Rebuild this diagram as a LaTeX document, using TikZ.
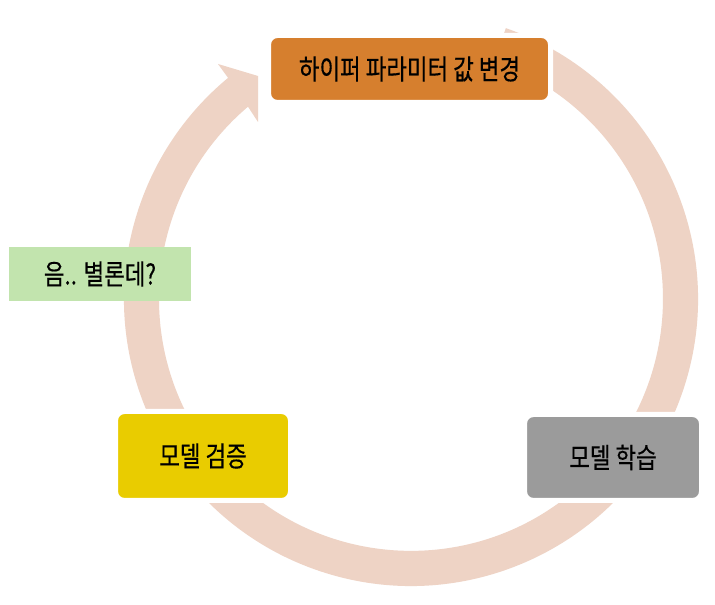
\documentclass[tikz,border=0pt]{standalone}
\usepackage{fontspec}
\newfontfamily\kr[FakeStretch=0.8,FakeBold=0.4]{Noto Sans CJK KR}
\definecolor{ringc}{HTML}{EED3C5}
\definecolor{orangec}{HTML}{D67F2E}
\definecolor{grayc}{HTML}{9B9B9B}
\definecolor{yellowc}{HTML}{E9CC00}
\definecolor{greenc}{HTML}{C2E4AE}
\tikzset{
  stepbox/.style={rounded corners=9pt, draw=white, line width=5pt, inner sep=0pt,
    font=\kr\fontsize{28}{32}\selectfont, text=black},
  notebox/.style={inner sep=0pt, font=\kr\fontsize{28}{32}\selectfont, text=black, fill=greenc}
}
\begin{document}
\begin{tikzpicture}[x=1pt,y=1pt]
\useasboundingbox (0,0) rectangle (715,605);
\fill[white] (0,0) rectangle (715,605);
% cycle ring arrow (centre 411,306)
\fill[ringc] (411,306) ++(70.7:287) arc[start angle=70.7,end angle=-230.4,radius=287]
  -- (218,541) -- (258,529) -- (258,483) -- (248,498.3)
  arc[start angle=-229.7,end angle=70.7,radius=252] -- cycle;
% boxes
\node[stepbox, fill=orangec, minimum width=282pt, minimum height=67pt] (tune) at (409.5,536) {하이퍼 파라미터 값 변경};
\node[stepbox, fill=grayc, minimum width=177pt, minimum height=86pt] (train) at (613,147.5) {모델 학습};
\node[stepbox, fill=yellowc, minimum width=175pt, minimum height=89pt] (valid) at (203,149) {모델 검증};
\node[notebox, minimum width=182pt, minimum height=54pt] (note) at (100,331) {음.. 별론데?};
\end{tikzpicture}
\end{document}
